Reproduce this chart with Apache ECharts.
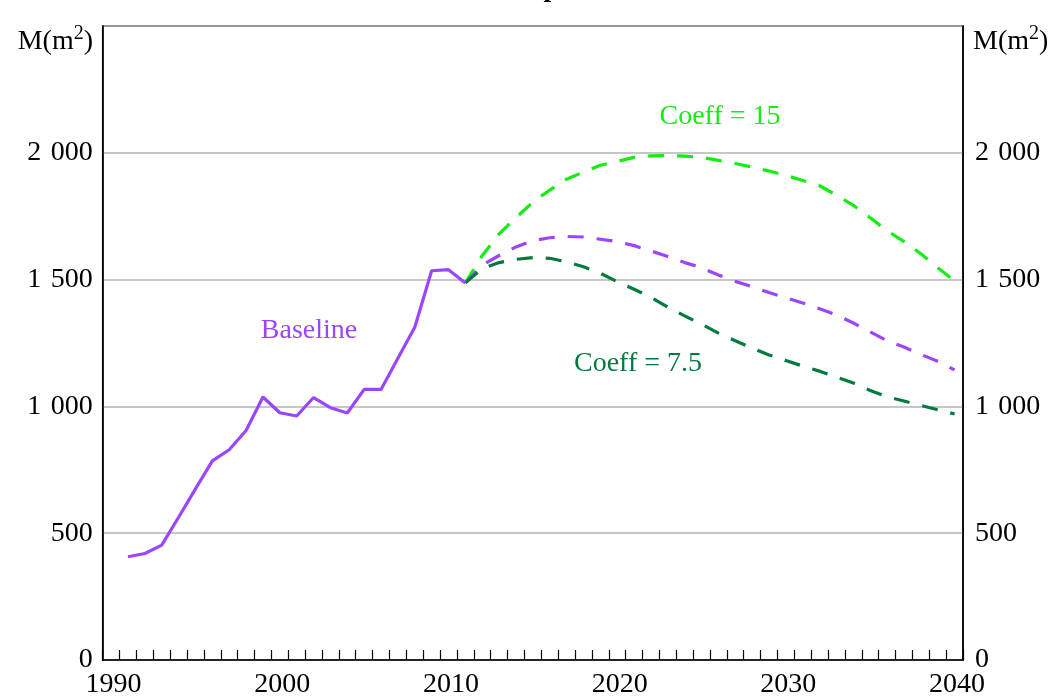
<!DOCTYPE html>
<html>
<head>
<meta charset="utf-8">
<script src="https://cdn.jsdelivr.net/npm/echarts@6/dist/echarts.min.js"></script>
<style>
html,body{margin:0;padding:0;background:#fff;}
#chart{width:1058px;height:699px;}
</style>
</head>
<body>
<div id="chart"></div>
<script>
// ---- data ----
var baselineYears = [1990,1991,1992,1993,1994,1995,1996,1997,1998,1999,2000,2001,2002,2003,2004,2005,2006,2007,2008,2009,2010];
var baselineValues = [407,420,453,563,675,785,829,905,1037,975,962,1035,995,974,1067,1067,1190,1312,1535,1539,1487];

var projYears = [2010,2011,2012,2013,2014,2015,2016,2017,2018,2019,2020,2021,2022,2023,2024,2025,2026,2027,2028,2029,2030,2031,2032,2033,2034,2035,2036,2037,2038,2039];
var coeff15Values = [1487,1595,1680,1744,1806,1853,1896,1924,1951,1966,1982,1988,1989,1987,1982,1970,1958,1944,1928,1911,1891,1870,1833,1793,1744,1693,1650,1602,1547,1495];
var baselineProjValues = [1487,1557,1595,1629,1654,1665,1670,1668,1659,1650,1634,1613,1591,1567,1547,1518,1493,1472,1449,1428,1408,1385,1360,1329,1294,1259,1234,1205,1178,1144];
var coeff75Values = [1487,1543,1567,1580,1587,1584,1570,1551,1525,1492,1462,1430,1391,1357,1324,1289,1259,1230,1203,1181,1159,1139,1115,1092,1063,1038,1021,1004,987,970];

var yTicks = [0, 500, 1000, 1500, 2000];
var xLabelYears = [1990, 2000, 2010, 2020, 2030, 2040];

var titleText = 'Floor space';
var unitText = 'M(m{sup|2})';
var labelBaseline = 'Baseline';
var label15 = 'Coeff = 15';
var label75 = 'Coeff = 7.5';

var PURPLE = '#9b45ff';
var GREEN = '#14ec14';
var DGREEN = '#007a3e';
var FONT = '"Liberation Serif", "Times New Roman", serif';
var FS = 28;

// annual observations plotted at mid-year
function pts(years, vals) {
  return years.map(function (y, i) { return [y + 0.5, vals[i]]; });
}
function fmtThousands(v) {
  var s = String(v);
  if (s.length > 3) s = s.slice(0, s.length - 3) + ' \u200A' + s.slice(s.length - 3);
  return s;
}

var chart = echarts.init(document.getElementById('chart'));

var yAxisCommon = {
  type: 'value', min: 0, max: 2500, interval: 500,
  axisLine: { show: true, lineStyle: { color: '#000', width: 1.5 } },
  axisTick: { show: false },
  splitLine: { show: true, lineStyle: { color: '#b4b4b4', width: 1.5 } },
  axisLabel: {
    color: '#000', fontFamily: FONT, fontSize: FS, margin: 10,
    formatter: function (v) { return yTicks.indexOf(v) >= 0 ? fmtThousands(v) : ''; }
  }
};

var unitRich = { sup: { fontSize: 20, verticalAlign: 'top', padding: [0, 0, 16, 0], fontFamily: FONT, fill: '#000' } };

chart.setOption({
  animation: false,
  backgroundColor: '#fff',
  grid: { left: 102.7, right: 95, top: 26, bottom: 39, show: true, borderColor: '#000', borderWidth: 1.5, containLabel: false },
  xAxis: {
    type: 'value', min: 1989, max: 2040, interval: 1,
    axisLine: { show: true, onZero: false, lineStyle: { color: '#000', width: 1.5 } },
    axisTick: { show: true, inside: true, length: 10, lineStyle: { color: '#000', width: 1.2 } },
    splitLine: { show: false },
    axisLabel: {
      color: '#000', fontFamily: FONT, fontSize: FS, margin: 11, padding: [0, 12, 0, 0],
      showMinLabel: true, showMaxLabel: true,
      formatter: function (v) { return xLabelYears.indexOf(v) >= 0 ? String(v) : ''; }
    }
  },
  yAxis: [
    Object.assign({ position: 'left' }, yAxisCommon),
    Object.assign({ position: 'right' }, yAxisCommon, { splitLine: { show: false }, axisLabel: Object.assign({}, yAxisCommon.axisLabel, { margin: 12 }) })
  ],
  series: [
    {
      name: 'Coeff = 15', type: 'line', data: pts(projYears, coeff15Values), showSymbol: false,
      lineStyle: { color: GREEN, width: 3.2, type: [16, 13], cap: 'butt' }, z: 3
    },
    {
      name: 'Baseline projection', type: 'line', data: pts(projYears, baselineProjValues), showSymbol: false,
      lineStyle: { color: PURPLE, width: 3.2, type: [16, 13], cap: 'butt' }, z: 3
    },
    {
      name: 'Coeff = 7.5', type: 'line', data: pts(projYears, coeff75Values), showSymbol: false,
      lineStyle: { color: DGREEN, width: 3.2, type: [16, 13], cap: 'butt' }, z: 4
    },
    {
      name: 'Baseline', type: 'line', data: pts(baselineYears, baselineValues), showSymbol: false,
      lineStyle: { color: PURPLE, width: 3.2 }, z: 5
    }
  ],
  graphic: [
    { type: 'text', left: 'center', top: -25, style: { text: titleText, font: 'bold 28px ' + FONT, fill: '#000' } },
    { type: 'text', x: 93, y: 24, style: { text: unitText, rich: unitRich, font: FS + 'px ' + FONT, fill: '#000', align: 'right', verticalAlign: 'top' } },
    { type: 'text', x: 973, y: 24, style: { text: unitText, rich: unitRich, font: FS + 'px ' + FONT, fill: '#000', align: 'left', verticalAlign: 'top' } },
    { type: 'text', x: 309, y: 331, style: { text: labelBaseline, font: FS + 'px ' + FONT, fill: PURPLE, align: 'center', verticalAlign: 'middle' } },
    { type: 'text', x: 720, y: 117, style: { text: label15, font: FS + 'px ' + FONT, fill: GREEN, align: 'center', verticalAlign: 'middle' } },
    { type: 'text', x: 638, y: 364, style: { text: label75, font: FS + 'px ' + FONT, fill: DGREEN, align: 'center', verticalAlign: 'middle' } }
  ]
});
</script>
</body>
</html>
